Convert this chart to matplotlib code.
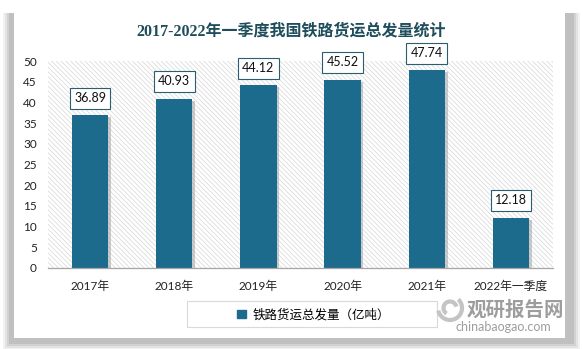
import matplotlib
matplotlib.use("Agg")
import matplotlib.pyplot as plt
import matplotlib.patheffects as pe
from matplotlib.patches import Rectangle, Patch, Arc

plt.rcParams['font.family'] = ['Lato', 'Noto Sans CJK SC', 'DejaVu Sans']
plt.rcParams['hatch.linewidth'] = 0.5
plt.rcParams['hatch.color'] = '#d6d6d6'

# 2017-2022 一季度铁路货运总发量（亿吨）
years = ['2017年', '2018年', '2019年', '2020年', '2021年', '2022年一季度']
volume = [36.89, 40.93, 44.12, 45.52, 47.74, 12.18]
yticks = [0, 5, 10, 15, 20, 25, 30, 35, 40, 45, 50]

BAR = '#1c6a8c'
TITLE = '#1e4d5c'
W, H = 583, 349

fig = plt.figure(figsize=(W / 100, H / 100), dpi=100)
fig.patch.set_facecolor('white')

# card with soft drop shadow
for i, a in enumerate([0.10, 0.14, 0.18, 0.24]):
    g = 4 - i
    fig.patches.append(Rectangle(((14 - 2 * g - 3) / W, (11 - 2 * g - 4) / H),
                                 (551 + 4 * g + 10) / W, (325 + 2 * g + 4) / H,
                                 transform=fig.transFigure, color='#888888',
                                 alpha=a, lw=0, zorder=0))
fig.patches.append(Rectangle((14 / W, 11 / H), 551 / W, 325 / H,
                             transform=fig.transFigure, facecolor='white',
                             lw=0, zorder=1))

ax = fig.add_axes([48 / W, 1 - 268 / H, 505 / W, 207 / H], zorder=2)
ax.patch.set_alpha(0)

# hatched plot area
ax.add_patch(Rectangle((0, 0), 1, 1, transform=ax.transAxes, facecolor='white',
                       edgecolor='#d6d6d6', hatch='\\' * 7, lw=0, zorder=0))

x = range(len(years))
bars = ax.bar(x, volume, width=0.43, color=BAR, zorder=2)
for b in bars:
    b.set_path_effects([pe.SimplePatchShadow(offset=(2, -1.5),
                                             shadow_rgbFace='#9a9a9a', alpha=0.5),
                        pe.Normal()])

for xi, v in zip(x, volume):
    ax.annotate(f'{v:.2f}', (xi, v), xytext=(0, 8), textcoords='offset points',
                ha='center', va='bottom', fontsize=9, color='#111111', zorder=4,
                bbox=dict(boxstyle='square,pad=0.35', fc='white', ec='#2a5d70', lw=0.8))

ax.set_xlim(-0.5, len(years) - 0.5)
ax.set_ylim(0, 50)
ax.set_yticks(yticks)
ax.set_xticks(list(x))
ax.set_xticklabels(years)
ax.tick_params(axis='both', length=0, labelsize=8.5, colors='#222222')
ax.tick_params(axis='x', pad=9)
ax.tick_params(axis='y', pad=8)
for s in ['top', 'right', 'left']:
    ax.spines[s].set_visible(False)
ax.spines['bottom'].set_color('#a6a6a6')
ax.spines['bottom'].set_linewidth(0.9)
ax.spines['bottom'].set_zorder(3)

fig.text(0.5, 1 - 31 / H, '2017-2022年一季度我国铁路货运总发量统计', ha='center',
         va='center', fontsize=11.5, fontweight='bold', color=TITLE,
         family=['Liberation Serif', 'Noto Sans CJK SC'], zorder=5)

# legend frame + legend
fig.patches.append(Rectangle((187 / W, 1 - 327 / H), 250 / W, 26 / H,
                             transform=fig.transFigure, facecolor='white',
                             edgecolor='#d9d9d9', lw=0.8, zorder=3))
leg = fig.legend(handles=[Patch(color=BAR, label='铁路货运总发量（亿吨）')],
                 loc='center left', bbox_to_anchor=(226 / W, 1 - 314 / H),
                 frameon=False, fontsize=9, handlelength=0.7, handleheight=0.7,
                 handletextpad=0.5)
leg.set_zorder(4)

# site mark: swirl logo + name
for r, t1, t2 in [(24, 200, 420), (13, 20, 250)]:
    fig.patches.append(Arc((450 / W, 1 - 308 / H), r / W, r / H, theta1=t1, theta2=t2,
                           transform=fig.transFigure, color='#c4c4c4', lw=3,
                           zorder=5))
fig.text(515 / W, 1 - 309 / H, '观研报告网', ha='center', va='center', fontsize=14,
         fontweight='bold', color='#8c8c8c', alpha=0.85, zorder=5)
fig.text(503 / W, 1 - 327 / H, 'chinabaogao.com', ha='center', va='center',
         fontsize=9, color='#8c8c8c', alpha=0.85, zorder=5)

fig.savefig('out.png', dpi=100)
